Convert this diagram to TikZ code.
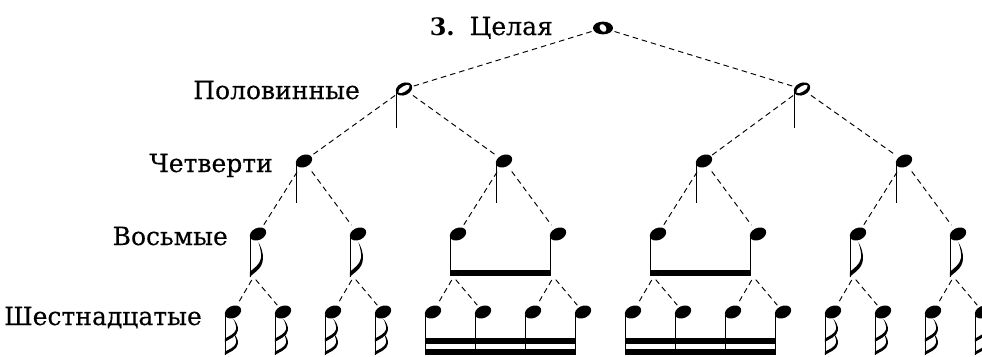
\documentclass[tikz,border=0pt]{standalone}
\usepackage{fontspec}
\setmainfont{DejaVu Serif}
\newfontfamily\lblfont{DejaVu Serif}[FakeBold=0.3]
% flag of a stem-down note, attached at the lower end of the stem
\newcommand\flagshape{(-0.6,0) .. controls (3,-3) and (12,-6) .. (12.5,-13)
  .. controls (12.9,-18) and (10.8,-22) .. (8,-25.5)
  .. controls (10.2,-21) and (11,-17) .. (10.6,-14)
  .. controls (9.6,-9) and (3,-6.2) .. (-0.6,-3.8) -- cycle}
\begin{document}
\begin{tikzpicture}[x=1pt,y=-1pt,
  stemline/.style={line width=1.35pt},
  dashline/.style={line width=0.95pt, dash pattern=on 5.5pt off 4pt},
  lbl/.style={inner sep=0pt, anchor=base east, font=\fontsize{25}{30}\lblfont},
  blackhead/.pic={\fill[rotate=25] (0,0) ellipse [x radius=8.6pt, y radius=6pt];},
  wholenote/.pic={
    \fill (0,0) ellipse [x radius=10pt, y radius=6.4pt];
    \fill[white, rotate=35] (0,0) ellipse [x radius=3.0pt, y radius=4.2pt];},
  halfnote/.pic={
    \fill[rotate=25] (0,0) ellipse [x radius=8.6pt, y radius=6.1pt];
    \fill[white, rotate=32] (0,0) ellipse [x radius=6.6pt, y radius=2.6pt];
    \draw[stemline] (-7.6,1) -- (-7.6,39);},
  quarternote/.pic={
    \pic {blackhead};
    \draw[stemline] (-7.6,1) -- (-7.6,42);},
  eighthnote/.pic={
    \pic {blackhead};
    \draw[stemline] (-7.6,1) -- (-7.6,43);
    \fill[shift={(-7.6,43)}, yscale=1.36] \flagshape;},
  sixteenthnote/.pic={
    \pic {blackhead};
    \draw[stemline] (-7.6,1) -- (-7.6,43);
    \fill[shift={(-7.6,30)}, yscale=0.9] \flagshape;
    \fill[shift={(-7.6,43)}, yscale=0.86] \flagshape;},
]
\useasboundingbox (0,0) rectangle (982,356);
\clip (0,0) rectangle (982,356);

% level labels
\node[lbl, font=\fontsize{24}{30}\selectfont\bfseries] (num) at (455,35) {3.};
\node[lbl] (lwhole) at (553,35) {Целая};
\node[lbl] (lhalf) at (360,99) {Половинные};
\node[lbl] (lquarter) at (273,172) {Четверти};
\node[lbl] (leighth) at (228,245) {Восьмые};
\node[lbl] (lsixteenth) at (202,325) {Шестнадцатые};

% note positions
\coordinate (w) at (603,28);
\coordinate (h1) at (404,89);
\coordinate (h2) at (802,89);
\foreach \i in {1,...,4} {
  \pgfmathsetmacro\qx{104+200*\i}
  \coordinate (q\i) at (\qx,161);
}
\foreach \i in {1,...,8} {
  \pgfmathsetmacro\ex{158+100*\i}
  \coordinate (e\i) at (\ex,234);
  \coordinate (eb\i) at (\ex-4.5,277);
}
\foreach \i in {1,...,16} {
  \pgfmathsetmacro\sx{183+50*\i}
  \coordinate (s\i) at (\sx,312);
}

% dashed tree
\draw[dashline, shorten <=12pt, shorten >=10pt] (w) -- (h1);
\draw[dashline, shorten <=12pt, shorten >=10pt] (w) -- (h2);
\foreach \p/\a/\b in {h1/q1/q2, h2/q3/q4} {
  \draw[dashline, shorten <=11pt, shorten >=10pt] (\p) -- (\a);
  \draw[dashline, shorten <=11pt, shorten >=10pt] (\p) -- (\b);
}
\foreach \i in {1,...,4} {
  \pgfmathtruncatemacro\a{2*\i-1}
  \pgfmathtruncatemacro\b{2*\i}
  \draw[dashline, shorten <=13pt, shorten >=11pt] (q\i) -- (e\a);
  \draw[dashline, shorten <=13pt, shorten >=11pt] (q\i) -- (e\b);
}
\foreach \i in {1,...,8} {
  \pgfmathtruncatemacro\a{2*\i-1}
  \pgfmathtruncatemacro\b{2*\i}
  \draw[dashline, shorten <=3.5pt, shorten >=9pt] (eb\i) -- (s\a);
  \draw[dashline, shorten <=3.5pt, shorten >=9pt] (eb\i) -- (s\b);
}

% notes
\pic at (w) {wholenote};
\pic at (h1) {halfnote};
\pic at (h2) {halfnote};
\foreach \i in {1,...,4} { \pic at (q\i) {quarternote}; }
\foreach \i in {1,2,7,8} { \pic at (e\i) {eighthnote}; }
\foreach \i in {1,2,3,4,13,14,15,16} { \pic at (s\i) {sixteenthnote}; }

% beamed eighths
\foreach \i in {3,...,6} {
  \pic at (e\i) {blackhead};
  \pgfmathsetmacro\ex{158+100*\i-7.6}
  \draw[stemline] (\ex,235) -- (\ex,276);
}
\fill (449.7,270) rectangle (551.1,276);
\fill (649.7,270) rectangle (751.1,276);

% beamed sixteenths
\foreach \i in {5,...,12} {
  \pic at (s\i) {blackhead};
  \pgfmathsetmacro\sx{183+50*\i-7.6}
  \draw[stemline] (\sx,313) -- (\sx,355);
}
\fill (424.7,338) rectangle (576.1,344);
\fill (424.7,349) rectangle (576.1,355);
\fill (624.7,338) rectangle (776.1,344);
\fill (624.7,349) rectangle (776.1,355);
\end{tikzpicture}
\end{document}
